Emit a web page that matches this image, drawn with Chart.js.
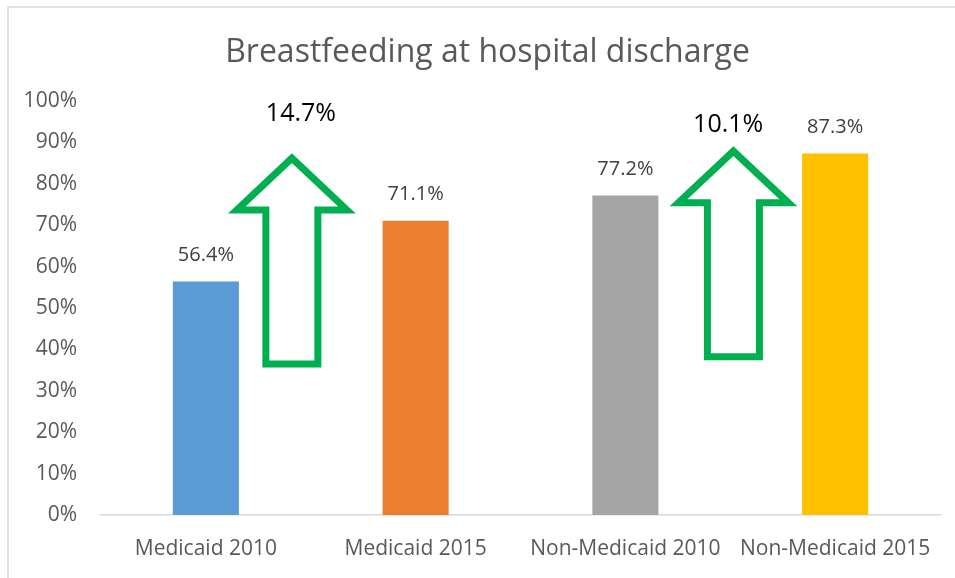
<!DOCTYPE html>
<html>
<head>
<meta charset="utf-8">
<script src="https://cdn.jsdelivr.net/npm/chart.js@4"></script>
<style>
  body { margin: 0; background: #fff; }
  canvas { display: block; }
</style>
</head>
<body>
<canvas id="chart" width="955" height="578"></canvas>
<script>
// ==========================
// DATA
// ==========================
const categories = ["Medicaid 2010", "Medicaid 2015", "Non-Medicaid 2010", "Non-Medicaid 2015"];
const values = [56.4, 71.1, 77.2, 87.3];
const barColors = ["#5B9BD5", "#ED7D31", "#A5A5A5", "#FFC000"];
const yTicks = [0, 10, 20, 30, 40, 50, 60, 70, 80, 90, 100];

// change annotations: text, x (category index), y (value)
const changeLabels = ["14.7%", "10.1%"];
const changeLabelX = [0.453, 2.49];
const changeLabelY = [96.9, 94.2];

// arrows: centre (category index), tip / head base / bottom (value)
const arrowX = [0.41, 2.515];
const arrowTip = [86.2, 87.9];
const arrowBase = [73.7, 75.4];
const arrowBottom = [36.5, 38.2];

const FONT = "'Open Sans', sans-serif";

// ==========================
// PLUGINS
// ==========================
const frame = {
    id: "frame",
    beforeDraw(chart) {
        const c = chart.ctx;
        c.save();
        c.strokeStyle = "#d9d9d9";
        c.lineWidth = 1.5;
        c.beginPath();
        c.moveTo(8, chart.height);
        c.lineTo(8, 7);
        c.lineTo(chart.width, 7);
        c.stroke();
        c.restore();
    }
};

const barLabels = {
    id: "barLabels",
    afterDatasetsDraw(chart) {
        const c = chart.ctx;
        const meta = chart.getDatasetMeta(0);
        c.save();
        c.font = "20px " + FONT;
        c.fillStyle = "#404040";
        c.textAlign = "center";
        c.textBaseline = "middle";
        meta.data.forEach((bar, i) => {
            c.fillText(values[i].toFixed(1) + "%", bar.x, bar.y - 26);
        });
        c.restore();
    }
};

const arrows = {
    id: "arrows",
    afterDatasetsDraw(chart) {
        const c = chart.ctx;
        const xs = chart.scales.x;
        const ys = chart.scales.y;
        const step = xs.getPixelForValue(1) - xs.getPixelForValue(0);
        const headHalf = step * 0.2625;
        const shaftHalf = step * 0.124;
        c.save();
        c.strokeStyle = "#00B050";
        c.lineWidth = 7;
        c.lineJoin = "miter";
        arrowX.forEach((ax, i) => {
            const cx = xs.getPixelForValue(ax);
            const tip = ys.getPixelForValue(arrowTip[i]);
            const base = ys.getPixelForValue(arrowBase[i]);
            const bottom = ys.getPixelForValue(arrowBottom[i]);
            c.beginPath();
            c.moveTo(cx, tip);
            c.lineTo(cx + headHalf, base);
            c.lineTo(cx + shaftHalf, base);
            c.lineTo(cx + shaftHalf, bottom);
            c.lineTo(cx - shaftHalf, bottom);
            c.lineTo(cx - shaftHalf, base);
            c.lineTo(cx - headHalf, base);
            c.closePath();
            c.stroke();
        });
        c.font = "25px " + FONT;
        c.fillStyle = "#000";
        c.textAlign = "center";
        c.textBaseline = "middle";
        changeLabels.forEach((t, i) => {
            c.fillText(t, xs.getPixelForValue(changeLabelX[i]), ys.getPixelForValue(changeLabelY[i]));
        });
        c.restore();
    }
};

// ==========================
// CHART
// ==========================
new Chart(document.getElementById("chart"), {
    type: "bar",
    data: {
        labels: categories,
        datasets: [{
            data: values,
            backgroundColor: barColors,
            categoryPercentage: 1,
            barPercentage: 0.315
        }]
    },
    options: {
        responsive: false,
        animation: false,
        layout: { padding: { left: 20, right: 0, top: 0, bottom: 0 } },
        plugins: {
            legend: { display: false },
            tooltip: { enabled: false },
            title: {
                display: true,
                text: "Breastfeeding at hospital discharge",
                color: "#595959",
                font: { family: FONT, size: 32, weight: "normal", lineHeight: 1.2 },
                padding: { top: 34, bottom: 28.6 }
            }
        },
        scales: {
            y: {
                min: 0,
                max: 100,
                afterBuildTicks: s => { s.ticks = yTicks.map(v => ({ value: v })); },
                afterFit: s => { s.width = 81; },
                grid: { display: false },
                border: { display: false },
                ticks: {
                    padding: 16,
                    color: "#595959",
                    font: { family: FONT, size: 21 },
                    callback: v => v + "%"
                }
            },
            // empty right strip so the plot ends where the original does
            yRight: {
                position: "right",
                afterFit: s => { s.width = 15; },
                grid: { display: false },
                border: { display: false },
                ticks: { display: false }
            },
            x: {
                afterFit: s => { s.height = 63; },
                grid: { display: false },
                border: { display: true, color: "#d9d9d9", width: 1.5 },
                ticks: {
                    padding: 13,
                    color: "#595959",
                    font: { family: FONT, size: 21 },
                    maxRotation: 0
                }
            }
        }
    },
    plugins: [frame, barLabels, arrows]
});
</script>
</body>
</html>
